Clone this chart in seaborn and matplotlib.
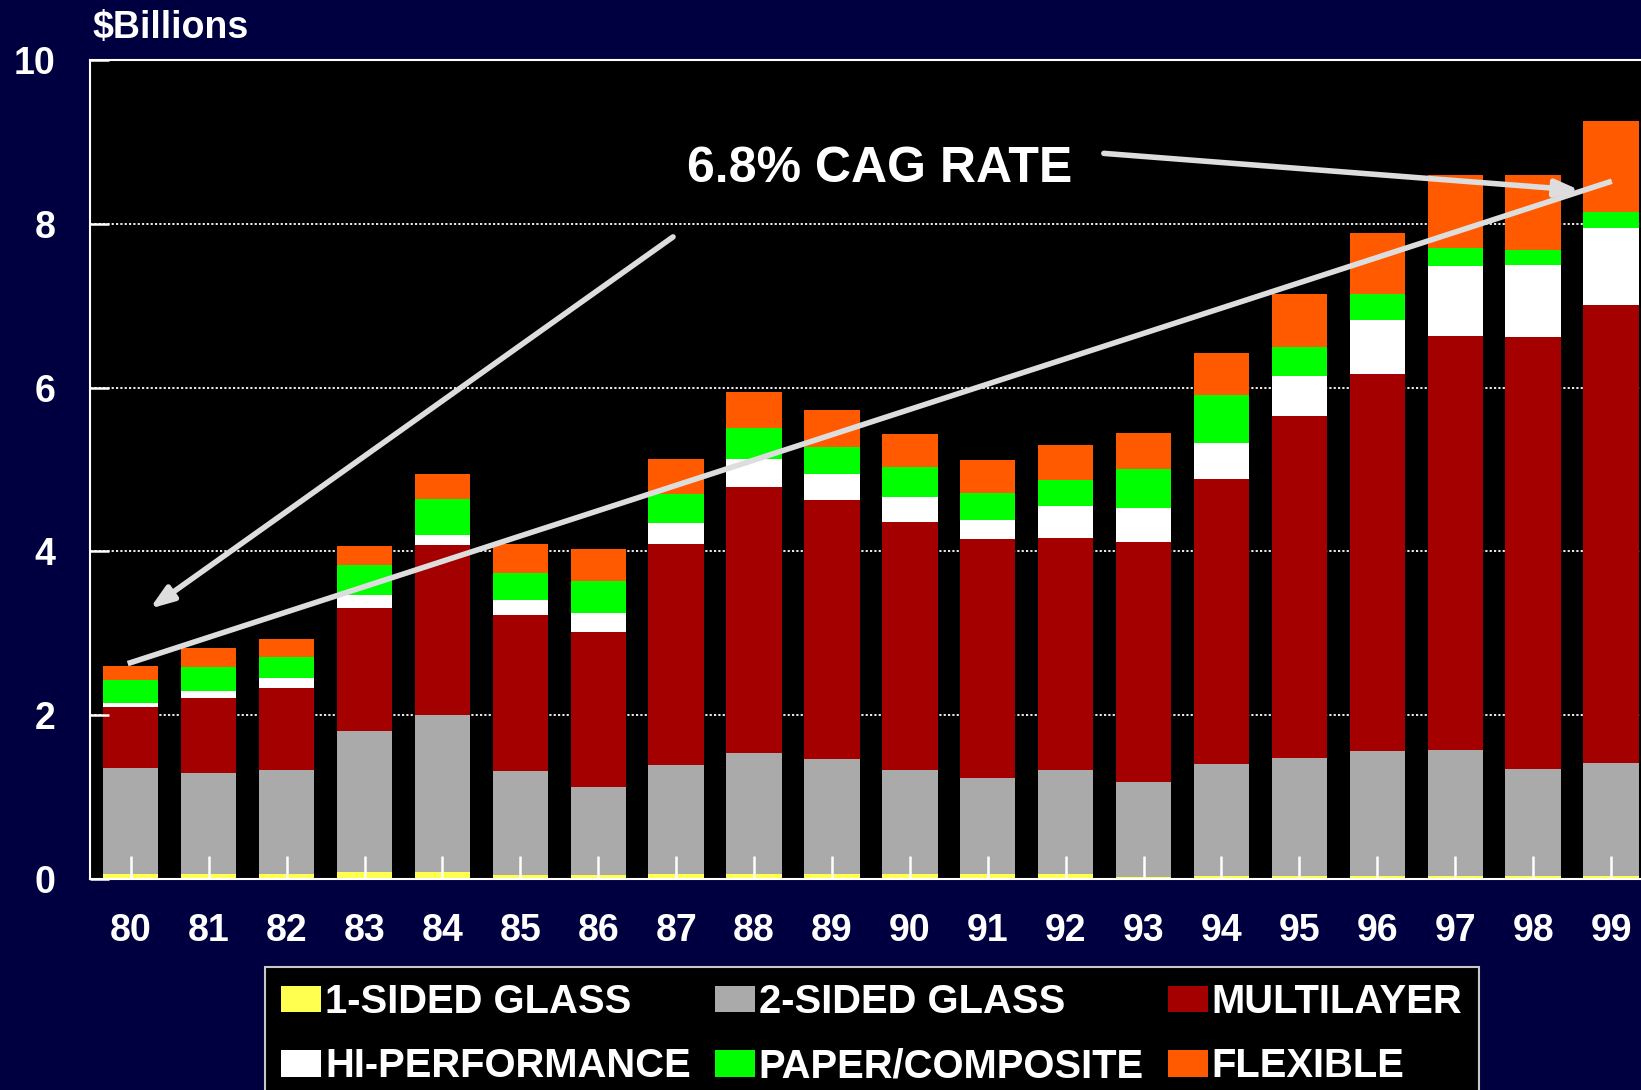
import numpy as np
import pandas as pd
import matplotlib
matplotlib.use("Agg")
import matplotlib.pyplot as plt
from matplotlib.patches import Patch
import seaborn as sns

'''DATA'''
years = ['80', '81', '82', '83', '84', '85', '86', '87', '88', '89',
         '90', '91', '92', '93', '94', '95', '96', '97', '98', '99']
one_sided = [0.065, 0.065, 0.065, 0.085, 0.085, 0.045, 0.045, 0.065, 0.06, 0.06,
             0.06, 0.06, 0.06, 0.02, 0.04, 0.04, 0.04, 0.04, 0.04, 0.04]
two_sided = [1.29, 1.23, 1.27, 1.72, 1.92, 1.27, 1.08, 1.33, 1.48, 1.41,
             1.27, 1.17, 1.27, 1.17, 1.36, 1.44, 1.52, 1.54, 1.30, 1.38]
multilayer = [0.75, 0.92, 1.00, 1.50, 2.07, 1.91, 1.89, 2.69, 3.25, 3.16,
              3.03, 2.92, 2.83, 2.93, 3.49, 4.17, 4.61, 5.05, 5.28, 5.59]
hi_perf = [0.05, 0.08, 0.12, 0.16, 0.13, 0.18, 0.23, 0.26, 0.34, 0.32,
           0.31, 0.23, 0.39, 0.41, 0.43, 0.49, 0.66, 0.85, 0.88, 0.94]
paper = [0.28, 0.29, 0.25, 0.37, 0.43, 0.33, 0.39, 0.35, 0.38, 0.33,
         0.36, 0.33, 0.32, 0.48, 0.59, 0.35, 0.31, 0.23, 0.18, 0.19]
flexible = [0.17, 0.23, 0.23, 0.23, 0.31, 0.35, 0.39, 0.43, 0.44, 0.45,
            0.40, 0.41, 0.43, 0.44, 0.51, 0.65, 0.75, 0.89, 0.92, 1.12]

series_names = ['1-SIDED GLASS', '2-SIDED GLASS', 'MULTILAYER',
                'HI-PERFORMANCE', 'PAPER/COMPOSITE', 'FLEXIBLE']
series_colors = ['#FFFF50', '#AAAAAA', '#A50000', '#FFFFFF', '#00FF00', '#FF5A00']

NAVY = '#000040'

'''PLOT'''
sns.set_style('dark')
plt.rcParams['font.family'] = ['Liberation Sans', 'DejaVu Sans']
plt.rcParams['font.weight'] = 'bold'

fig = plt.figure(figsize=(16.41, 10.90), dpi=100)
fig.patch.set_facecolor(NAVY)
ax = fig.add_axes([90 / 1641, 211 / 1090, 1 - 90 / 1641, 819 / 1090])
ax.set_facecolor('black')

# stacked bars: draw running totals from the top layer down
stack = np.cumsum(np.array([one_sided, two_sided, multilayer, hi_perf, paper, flexible]), axis=0)
for i in range(len(series_names) - 1, -1, -1):
    df = pd.DataFrame({'year': years, 'value': stack[i]})
    sns.barplot(data=df, x='year', y='value', order=years, color=series_colors[i],
                saturation=1, width=0.71, edgecolor='none', linewidth=0, ax=ax)

ax.set_xlim(-0.524, 19.385)
ax.set_ylim(0, 10)
ax.set_yticks([0, 2, 4, 6, 8, 10])
ax.set_xlabel('')
ax.set_ylabel('')

# dotted grid behind the bars, ticks stay on top
ax.grid(False)
ax.hlines([2, 4, 6, 8], -0.524, 19.385, colors='white', linestyles=(0, (1.2, 1.2)),
          linewidth=1.3, zorder=0.5)
ax.set_axisbelow(False)

ax.tick_params(axis='x', bottom=True, direction='in', length=16.5, width=1.8, color='white',
               labelcolor='white', labelsize=27, pad=24.5)
ax.tick_params(axis='y', left=True, direction='in', length=14, width=1.8, color='white',
               labelcolor='white', labelsize=27, pad=25)
for lab in ax.get_xticklabels() + ax.get_yticklabels():
    lab.set_fontweight('bold')

for side in ['left', 'top', 'bottom']:
    ax.spines[side].set_visible(True)
    ax.spines[side].set_color('white')
    ax.spines[side].set_linewidth(1.5)
ax.spines['right'].set_visible(False)

# annotations
grey = '#DDDDDD'
ax.plot([-0.04, 19.01], [2.63, 8.52], color=grey, lw=4, solid_capstyle='butt', zorder=5)
ax.annotate('', xy=(0.243, 3.30), xytext=(6.96, 7.84),
            arrowprops=dict(arrowstyle='-|>,head_length=1.4,head_width=0.5',
                            color=grey, lw=4, shrinkA=0, shrinkB=0), zorder=6)
ax.annotate('', xy=(18.60, 8.41), xytext=(12.49, 8.86),
            arrowprops=dict(arrowstyle='-|>,head_length=1.4,head_width=0.5',
                            color=grey, lw=4, shrinkA=0, shrinkB=0), zorder=6)
ax.text(7.14, 8.67, '6.8% CAG RATE', color='white', fontsize=36, fontweight='bold',
        ha='left', va='center', zorder=7)

fig.text(92 / 1641, 1052 / 1090, '$Billions', color='white', fontsize=27,
         fontweight='bold', ha='left', va='baseline')

# legend filled row by row like the original
order = [0, 3, 1, 4, 2, 5]
handles = [Patch(facecolor=series_colors[k], edgecolor='none') for k in order]
labels = [series_names[k] for k in order]
leg = fig.legend(handles, labels, ncol=3, loc='upper left',
                 bbox_to_anchor=(265 / 1641, 123 / 1090), frameon=True,
                 facecolor='black', edgecolor='#C8C8C8', framealpha=1, fancybox=False,
                 prop={'size': 28.8, 'weight': 'bold'}, labelcolor='white',
                 handlelength=1.0, handleheight=0.65, handletextpad=0.1,
                 columnspacing=0.6, labelspacing=0.66, borderpad=0.4, borderaxespad=0)
leg.get_frame().set_linewidth(1.5)

fig.savefig('out.png', dpi=100, facecolor=NAVY)
